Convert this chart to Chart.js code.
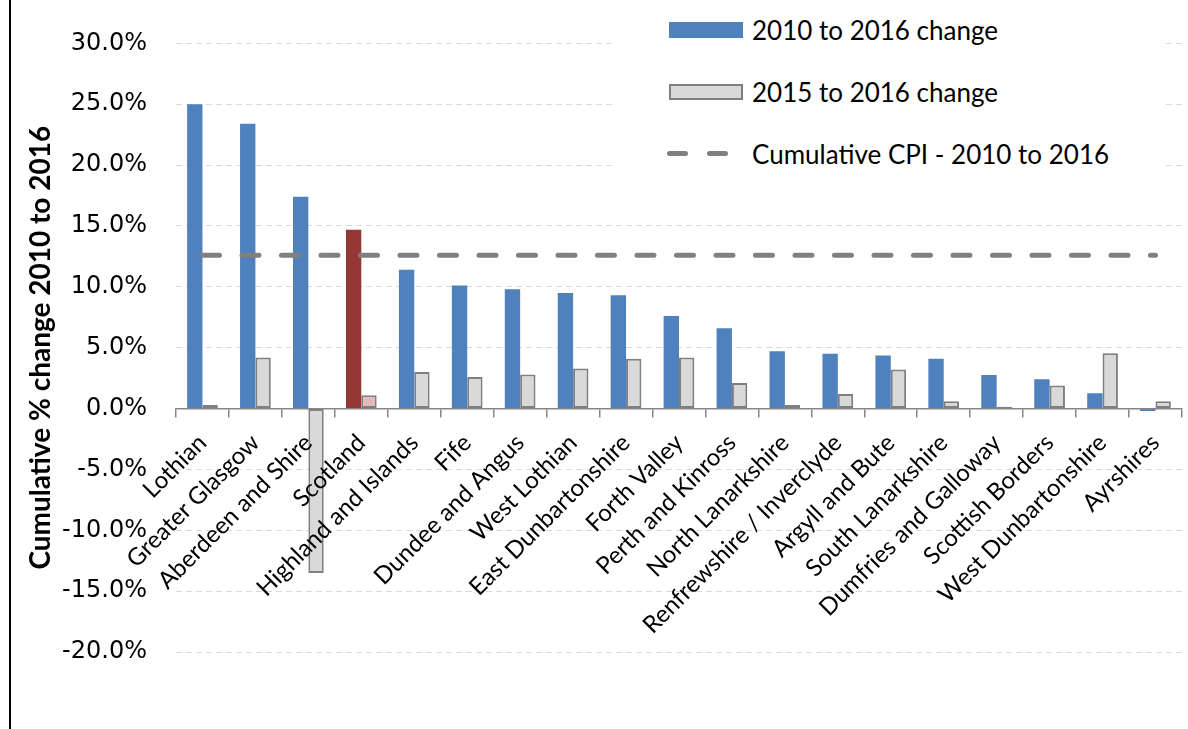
<!DOCTYPE html>
<html>
<head>
<meta charset="utf-8">
<script src="https://cdn.jsdelivr.net/npm/chart.js@4.4.0/dist/chart.umd.min.js"></script>
<style>
    html, body { margin: 0; padding: 0; background: #fff; }
    #wrap { position: relative; width: 1188px; height: 729px; overflow: hidden; }
    #edge { position: absolute; left: 9px; top: 0; width: 2px; height: 729px; background: #000; }
    #legend {
        position: absolute; left: 615px; top: 0; width: 548px; height: 175px;
        background: #fff; font-family: Lato, sans-serif; font-size: 26px; color: #000;
    }
    .item { position: absolute; left: 54px; height: 30px; display: flex; align-items: center; }
    .swatch { width: 74px; height: 16px; box-sizing: border-box; margin-right: 9px; }
    .dashes { width: 74px; height: 16px; margin-right: 9px; position: relative; }
    .dashes span { position: absolute; top: 5px; width: 21px; height: 5px; border-radius: 3px; background: #808080; }
</style>
</head>
<body>
<div id="wrap">
    <canvas id="chart" width="1188" height="729"></canvas>
    <div id="edge"></div>
    <div id="legend">
        <div class="item" style="top:15px"><div class="swatch" style="background:#4f81bd"></div>2010 to 2016 change</div>
        <div class="item" style="top:77px"><div class="swatch" style="background:#d9d9d9;border:2px solid #7f7f7f"></div>2015 to 2016 change</div>
        <div class="item" style="top:139px"><div class="dashes"><span style="left:-2px"></span><span style="left:38px"></span></div>Cumulative CPI - 2010 to 2016</div>
    </div>
</div>
<script>
const categories = [
    "Lothian", "Greater Glasgow", "Aberdeen and Shire", "Scotland",
    "Highland and Islands", "Fife", "Dundee and Angus", "West Lothian",
    "East Dunbartonshire", "Forth Valley", "Perth and Kinross",
    "North Lanarkshire", "Renfrewshire / Inverclyde", "Argyll and Bute",
    "South Lanarkshire", "Dumfries and Galloway", "Scottish Borders",
    "West Dunbartonshire", "Ayrshires"
];
const change2010to2016 = [25.0, 23.4, 17.4, 14.7, 11.4, 10.1, 9.8, 9.5, 9.3, 7.6, 6.6, 4.7, 4.5, 4.35, 4.1, 2.75, 2.4, 1.25, -0.2];
const change2015to2016 = [0.3, 4.2, -13.5, 1.1, 3.0, 2.6, 2.8, 3.3, 4.1, 4.2, 2.1, 0.3, 1.2, 3.2, 0.6, 0.15, 1.9, 4.55, 0.6];
const cumulativeCpi = [12.6, 12.6, 12.6, 12.6, 12.6, 12.6, 12.6, 12.6, 12.6, 12.6, 12.6, 12.6, 12.6, 12.6, 12.6, 12.6, 12.6, 12.6, 12.6];
const yMin = -20;
const yMax = 30;
const yStep = 5;
const yTitle = "Cumulative % change 2010 to 2016";

// Scotland is highlighted in red / pink
const blueColors = categories.map(c => c === "Scotland" ? "#953735" : "#4f81bd");
const greyColors = categories.map(c => c === "Scotland" ? "#e6b9b8" : "#d9d9d9");

const ctx = document.getElementById("chart").getContext("2d");
new Chart(ctx, {
    type: "bar",
    data: {
        labels: categories,
        datasets: [
            {
                label: "2010 to 2016 change",
                data: change2010to2016,
                backgroundColor: blueColors,
                borderWidth: 0,
                categoryPercentage: 0.58,
                barPercentage: 1,
                order: 1
            },
            {
                label: "2015 to 2016 change",
                data: change2015to2016,
                backgroundColor: greyColors,
                borderColor: "#7f7f7f",
                borderWidth: 2,
                borderSkipped: false,
                categoryPercentage: 0.58,
                barPercentage: 1,
                order: 2
            },
            {
                type: "line",
                label: "Cumulative CPI - 2010 to 2016",
                data: cumulativeCpi,
                borderColor: "#808080",
                borderWidth: 5,
                borderDash: [17, 22.5],
                borderCapStyle: "round",
                pointRadius: 0,
                fill: false,
                order: 0
            }
        ]
    },
    options: {
        responsive: false,
        animation: false,
        layout: {
            padding: { top: 42, right: 5, bottom: 77, left: 0 }
        },
        plugins: {
            legend: { display: false },
            tooltip: { enabled: false }
        },
        scales: {
            x: {
                position: { y: 0 },
                afterFit(scale) { scale.height = 0; },
                grid: {
                    offset: true,
                    drawOnChartArea: false,
                    drawTicks: true,
                    tickLength: 8,
                    color: "#868686",
                    lineWidth: 1.5,
                    z: 1
                },
                border: { display: true, color: "#868686", width: 1.5, z: 1 },
                ticks: {
                    autoSkip: false,
                    minRotation: 45,
                    maxRotation: 45,
                    padding: 12,
                    color: "#000",
                    font: { family: "Lato", size: 24 },
                    z: 1
                }
            },
            y: {
                min: yMin,
                max: yMax,
                afterFit(scale) { scale.width = 176; },
                grid: {
                    color: "#d9d9d9",
                    drawTicks: false
                },
                border: { display: false, dash: [6, 4] },
                ticks: {
                    stepSize: yStep,
                    padding: 29,
                    color: "#000",
                    font: { family: "DejaVu Sans", size: 24 },
                    callback: v => v.toFixed(1) + "%"
                },
                title: {
                    display: true,
                    text: yTitle,
                    color: "#000",
                    font: { family: "Lato", size: 28, weight: "bold" },
                    padding: { top: 24, bottom: 0 }
                }
            }
        }
    }
});
</script>
</body>
</html>
